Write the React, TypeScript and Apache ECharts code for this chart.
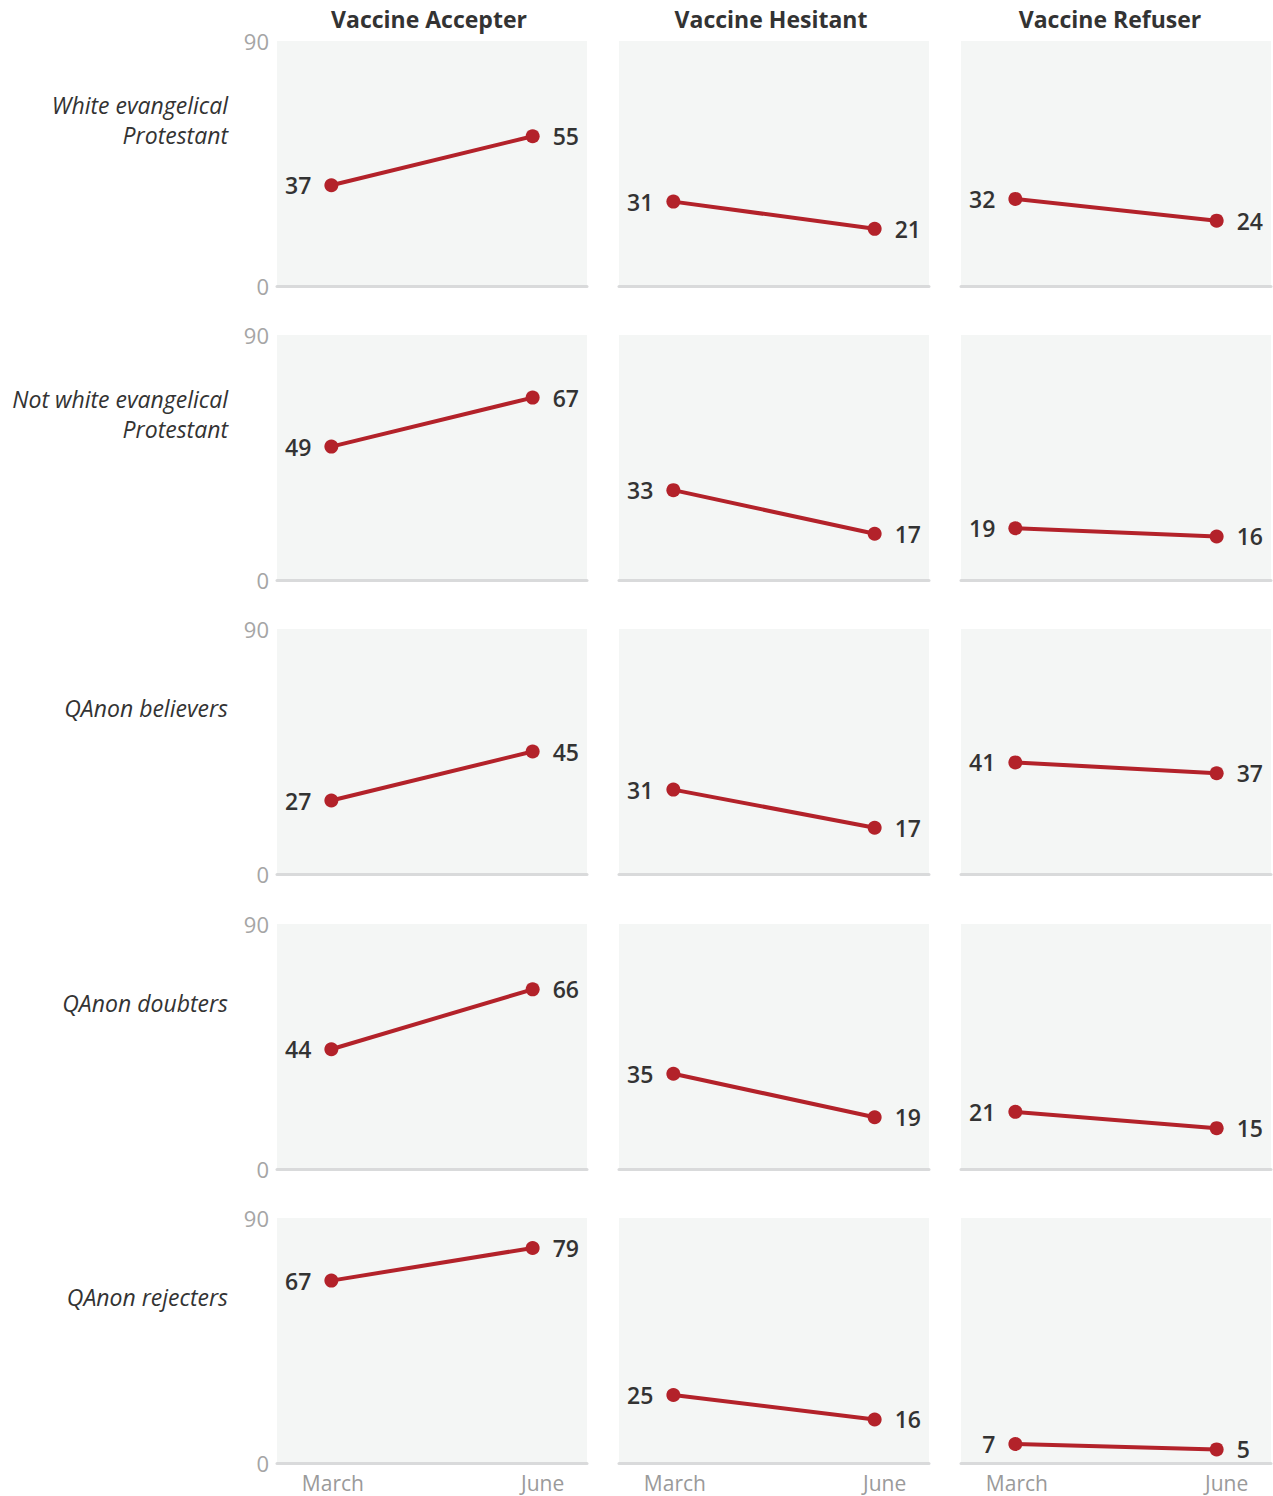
import React, { useEffect, useRef } from "react";
import * as echarts from "echarts";

const columns = ["Vaccine Accepter", "Vaccine Hesitant", "Vaccine Refuser"];
const rowLabels = [
  "White evangelical\nProtestant",
  "Not white evangelical\nProtestant",
  "QAnon believers",
  "QAnon doubters",
  "QAnon rejecters",
];
const months = ["March", "June"];
const yTicks = [0, 90];

// values[row][col] = [March, June]
const whiteEvangelical = [[37, 55], [31, 21], [32, 24]];
const notWhiteEvangelical = [[49, 67], [33, 17], [19, 16]];
const qanonBelievers = [[27, 45], [31, 17], [41, 37]];
const qanonDoubters = [[44, 66], [35, 19], [21, 15]];
const qanonRejecters = [[67, 79], [25, 16], [7, 5]];
const rows = [whiteEvangelical, notWhiteEvangelical, qanonBelievers, qanonDoubters, qanonRejecters];

const FONT = "'Open Sans', 'Noto Sans', sans-serif";
const RED = "#b3222a";

export default function App() {
  const ref = useRef<HTMLDivElement>(null);
  useEffect(() => {
    if (!ref.current) return;
    const chart = echarts.init(ref.current, null, { renderer: "svg" });
    const colLeft = [277, 619, 961];
    const panelW = 310;
    const rowTop = [41, 335, 629, 924, 1218];
    const panelH = 245;
    const headerShift = [-3, -3, -23];

    const grids: any[] = [];
    const xAxes: any[] = [];
    const yAxes: any[] = [];
    const series: any[] = [];
    const graphics: any[] = [];

    columns.forEach((c, ci) => {
      graphics.push({
        type: "text",
        x: colLeft[ci] + panelW / 2 + headerShift[ci] + (ci === 2 ? 17 : 0),
        y: 19,
        style: {
          text: c,
          fontFamily: FONT,
          fontSize: 23,
          fontWeight: "bold",
          fill: "#333",
          align: "center",
          verticalAlign: "middle",
        },
      });
    });
    rowLabels.forEach((r, ri) => {
      graphics.push({
        type: "text",
        x: 228,
        y: rowTop[ri] + 79,
        style: {
          text: r,
          fontFamily: FONT,
          fontSize: 23,
          fontStyle: "italic",
          fill: "#333",
          align: "right",
          verticalAlign: "middle",
          lineHeight: 30,
        },
      });
    });

    const monthStyle = { color: "#9a9a9a", fontFamily: FONT, fontSize: 21 };

    rows.forEach((rowVals, ri) => {
      rowVals.forEach((vals, ci) => {
        const idx = grids.length;
        grids.push({
          left: colLeft[ci],
          top: rowTop[ri],
          width: panelW,
          height: panelH,
          show: true,
          backgroundColor: "#f4f6f5",
          borderWidth: 0,
        });
        xAxes.push({
          type: "value",
          gridIndex: idx,
          min: -0.27,
          max: 1.27,
          splitLine: { show: false },
          axisTick: { show: false },
          axisLine: { show: true, onZero: false, lineStyle: { color: "#d9dadb", width: 3 } },
          axisLabel: {
            show: ri === rows.length - 1,
            customValues: [0, 1],
            formatter: (v: number) => {
              const i = Math.round(v);
              return i === 0 ? `{m|${months[0]}}` : `{j|${months[1]}}`;
            },
            rich: {
              m: { ...monthStyle, padding: [0, 0, 0, 3] },
              j: { ...monthStyle, padding: [0, 0, 0, 20] },
            },
            ...monthStyle,
            margin: 9,
          },
        });
        yAxes.push({
          type: "value",
          gridIndex: idx,
          min: 0,
          max: 90,
          interval: 90,
          splitLine: { show: false },
          axisLine: { show: false },
          axisTick: { show: false },
          axisLabel: {
            show: ci === 0,
            customValues: yTicks,
            color: "#a5a5a5",
            fontFamily: FONT,
            fontSize: 22,
            margin: 8,
          },
        });
        series.push({
          type: "line",
          xAxisIndex: idx,
          yAxisIndex: idx,
          symbol: "circle",
          symbolSize: 14,
          lineStyle: { color: RED, width: 4 },
          itemStyle: { color: RED },
          label: {
            show: true,
            formatter: (p: any) => String(p.value[1]),
            color: "#333",
            fontFamily: FONT,
            fontSize: 23,
            fontWeight: 600,
            distance: 13,
          },
          data: vals.map((v, i) => ({
            value: [i, v],
            label: { position: i === 0 ? "left" : "right" },
          })),
        });
      });
    });

    chart.setOption({
      animation: false,
      backgroundColor: "#ffffff",
      grid: grids,
      xAxis: xAxes,
      yAxis: yAxes,
      series,
      graphic: graphics,
    });
    return () => chart.dispose();
  }, []);
  return (
    <div
      ref={ref}
      style={{ position: "absolute", left: 0, top: 0, width: 1273, height: 1496 }}
    />
  );
}
